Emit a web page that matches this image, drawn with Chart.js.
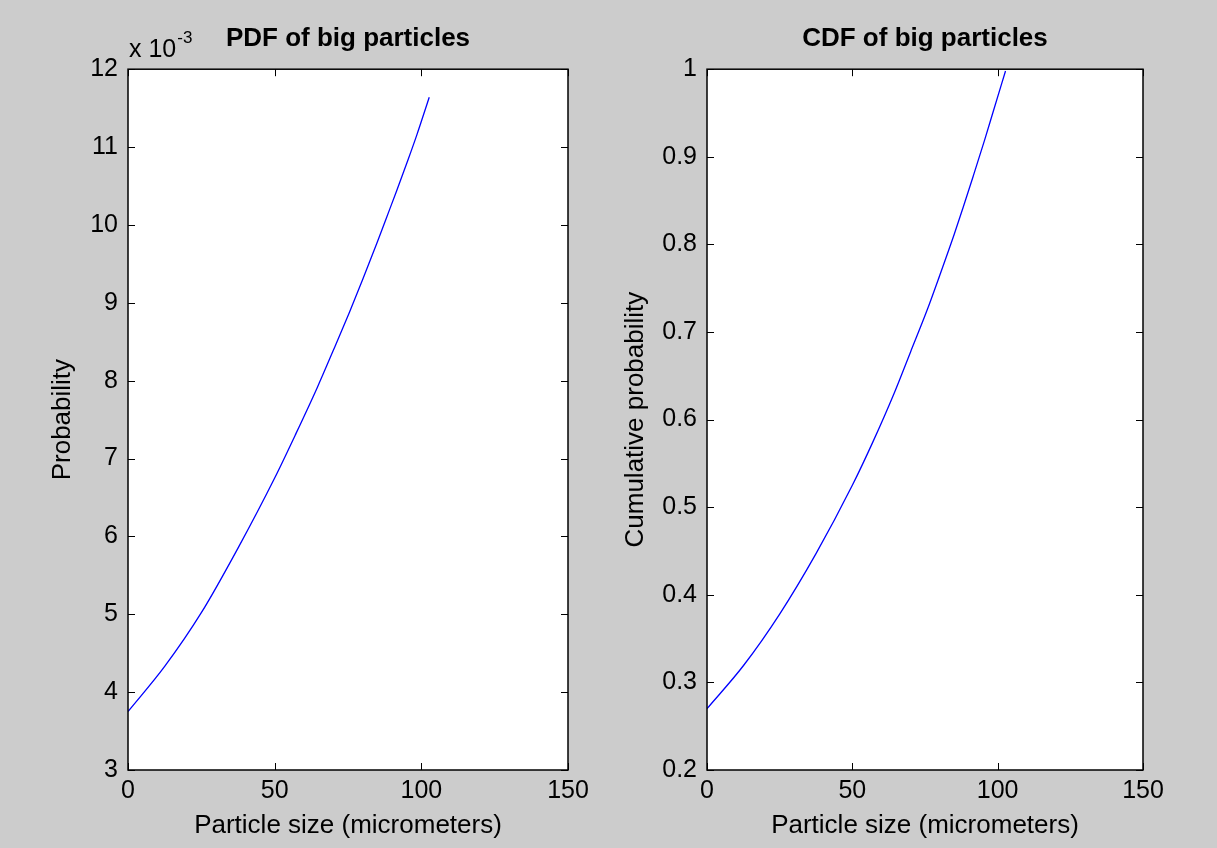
<!DOCTYPE html>
<html>
<head>
<meta charset="utf-8">
<script src="https://cdn.jsdelivr.net/npm/chart.js@4.4.0/dist/chart.umd.min.js"></script>
<style>
html, body { margin: 0; padding: 0; background: #cccccc; }
#wrap { position: relative; width: 1217px; height: 848px; background: #cccccc; }
#pdfChart { position: absolute; left: 0; top: 0; }
#cdfChart { position: absolute; left: 600px; top: 0; }
</style>
</head>
<body>
<div id="wrap">
  <canvas id="pdfChart" width="600" height="848"></canvas>
  <canvas id="cdfChart" width="617" height="848"></canvas>
</div>
<script>
// particle size (micrometers)
var sizes = [0, 12.5, 25, 37.5, 50, 57, 64.5, 70, 75.5, 80, 85, 88, 91.5, 95.5, 98.5, 102.7];
// probability density
var pdfValues = [0.00375, 0.00433, 0.00502, 0.00585, 0.00675, 0.00730, 0.00791, 0.00839, 0.00888,
                 0.00930, 0.00978, 0.01008, 0.01043, 0.01084, 0.01116, 0.01164];
// cumulative probability
var cdfValues = [0.270, 0.319, 0.378, 0.447, 0.525, 0.574, 0.631, 0.677, 0.723,
                 0.764, 0.811, 0.841, 0.877, 0.919, 0.952, 0.998];

var xTicks = [0, 50, 100, 150];
var pdfTicks = [0.003, 0.004, 0.005, 0.006, 0.007, 0.008, 0.009, 0.010, 0.011, 0.012];
var cdfTicks = [0.2, 0.3, 0.4, 0.5, 0.6, 0.7, 0.8, 0.9, 1];

var FONT = "'Liberation Sans', Arial, Helvetica, sans-serif";

// white axes box, ticks pointing inwards on all four sides
var matlabAxes = {
  id: 'matlabAxes',
  beforeDraw: function(chart) {
    var a = chart.chartArea, ctx = chart.ctx;
    ctx.save();
    ctx.fillStyle = '#ffffff';
    ctx.fillRect(a.left, a.top, a.right - a.left, a.bottom - a.top);
    ctx.restore();
  },
  afterDraw: function(chart) {
    var a = chart.chartArea, ctx = chart.ctx, len = 7;
    var xs = chart.scales.x, ys = chart.scales.y;
    ctx.save();
    ctx.strokeStyle = '#000000';
    ctx.lineWidth = 1;
    ctx.beginPath();
    xs.ticks.forEach(function(t) {
      var px = Math.round(xs.getPixelForValue(t.value)) + 0.5;
      ctx.moveTo(px, a.bottom); ctx.lineTo(px, a.bottom - len);
      ctx.moveTo(px, a.top); ctx.lineTo(px, a.top + len);
    });
    ys.ticks.forEach(function(t) {
      var py = Math.round(ys.getPixelForValue(t.value)) + 0.5;
      ctx.moveTo(a.left, py); ctx.lineTo(a.left + len, py);
      ctx.moveTo(a.right, py); ctx.lineTo(a.right - len, py);
    });
    ctx.stroke();
    ctx.lineWidth = 1.5;
    ctx.strokeRect(a.left, a.top, a.right - a.left, a.bottom - a.top);
    ctx.restore();
  }
};

// "x 10^-3" exponent label over the PDF y axis
var exponentLabel = {
  id: 'exponentLabel',
  afterDraw: function(chart) {
    var ctx = chart.ctx, a = chart.chartArea;
    ctx.save();
    ctx.fillStyle = '#000000';
    ctx.textBaseline = 'alphabetic';
    ctx.textAlign = 'left';
    ctx.font = '25px ' + FONT;
    var base = 'x 10';
    ctx.fillText(base, a.left + 1, a.top - 12);
    var w = ctx.measureText(base).width;
    ctx.font = '17px ' + FONT;
    ctx.fillText('-3', a.left + 2 + w, a.top - 26);
    ctx.restore();
  }
};

function makeChart(id, values, yTicks, yMin, yMax, yFormat, title, yTitle, yWidth, yTitlePad, rightPad, extraPlugins) {
  var points = sizes.map(function(s, i) { return { x: s, y: values[i] }; });
  return new Chart(document.getElementById(id).getContext('2d'), {
    type: 'line',
    data: {
      datasets: [{
        data: points,
        borderColor: '#0000ff',
        borderWidth: 1.3,
        pointRadius: 0,
        fill: false,
        cubicInterpolationMode: 'monotone'
      }]
    },
    options: {
      responsive: false,
      animation: false,
      events: [],
      layout: { padding: { left: 0, right: rightPad, top: 0, bottom: 0 } },
      plugins: {
        legend: { display: false },
        tooltip: { enabled: false },
        title: {
          display: true,
          text: title,
          fullSize: false,
          color: '#000000',
          font: { family: FONT, size: 26, weight: 'bold' },
          padding: { top: 23, bottom: 15 }
        }
      },
      scales: {
        x: {
          type: 'linear',
          min: 0,
          max: 150,
          grid: { display: false, drawTicks: false },
          border: { display: false },
          afterBuildTicks: function(scale) {
            scale.ticks = xTicks.map(function(v) { return { value: v }; });
          },
          afterFit: function(scale) { scale.height = 78; },
          ticks: {
            color: '#000000',
            padding: 6,
            maxRotation: 0,
            font: { family: FONT, size: 25 }
          },
          title: {
            display: true,
            text: 'Particle size (micrometers)',
            color: '#000000',
            font: { family: FONT, size: 26 },
            padding: { top: 0, bottom: 7 }
          }
        },
        y: {
          type: 'linear',
          min: yMin,
          max: yMax,
          grid: { display: false, drawTicks: false },
          border: { display: false },
          afterBuildTicks: function(scale) {
            scale.ticks = yTicks.map(function(v) { return { value: v }; });
          },
          afterFit: function(scale) { scale.width = yWidth; },
          ticks: {
            color: '#000000',
            padding: 10,
            font: { family: FONT, size: 25 },
            callback: yFormat
          },
          title: {
            display: true,
            text: yTitle,
            color: '#000000',
            font: { family: FONT, size: 26 },
            padding: { top: yTitlePad, bottom: 0 }
          }
        }
      }
    },
    plugins: [matlabAxes].concat(extraPlugins)
  });
}

makeChart('pdfChart', pdfValues, pdfTicks, 0.003, 0.012,
  function(v) { return String(Math.round(v * 1000)); },
  'PDF of big particles', 'Probability', 128, 47, 32, [exponentLabel]);

makeChart('cdfChart', cdfValues, cdfTicks, 0.2, 1,
  function(v) { return String(Number(v.toFixed(1))); },
  'CDF of big particles', 'Cumulative probability', 107, 20, 74, []);
</script>
</body>
</html>
